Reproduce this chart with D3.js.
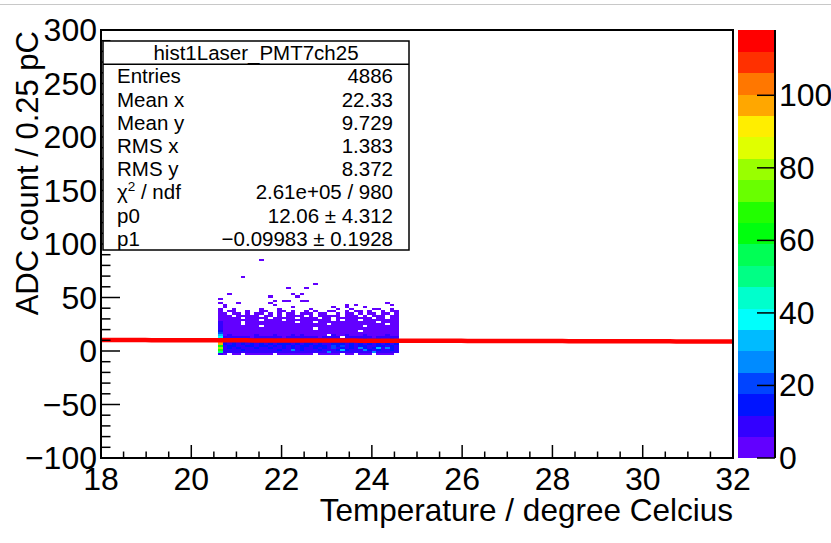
<!DOCTYPE html>
<html><head><meta charset="utf-8">
<script src="https://cdn.jsdelivr.net/npm/d3@7"></script>
<style>body{margin:0;background:#fff;overflow:hidden}svg{display:block}</style>
</head><body>
<svg id="c" width="831" height="543"></svg>
<script>
// ---------- data ----------
const xDomain = [18, 32];
const yDomain = [-100, 300];
const zDomain = [0, 118];
const xTickValues = [18, 20, 22, 24, 26, 28, 30, 32];
const yTickValues = [-100, -50, 0, 50, 100, 150, 200, 250, 300];
const zTickValues = [0, 20, 40, 60, 80, 100];
const nContours = 20;

// 2D histogram: x bins of 0.1 starting at 20.6 (40 columns), y bins of 2 (lower edges below)
const xBinStart = 20.6, xBinWidth = 0.1, yBinWidth = 2;
const rowY = [84, 68, 62, 58, 52, 50, 48, 46, 44, 42, 40, 38, 36, 34, 32, 30, 28, 26, 24, 22, 20, 18, 16, 14, 12, 10, 8, 6, 4, 2, 0, -2, -4];
// column 20.6-20.7 (counts), same order as rowY
const firstColumn = [0, 0, 0, 0, 0, 0, 1, 0, 1, 0, 0, 2, 2, 3, 2, 4, 5, 6, 7, 8, 10, 15, 22, 33, 40, 70, 118, 95, 64, 80, 68, 50, 10];
// other columns: base-36 counts ('.' = empty, '_' = first column placeholder)
const gridRows = [
  "_........1 .......... .......... ..........",
  "_....1.... .......... .......... ..........",
  "_......... .......... .1........ ..........",
  "_......... .....1...1 .......... ..........",
  "_.1....... ......1.1. .......... ..........",
  "_......... .1.....1.. .......... ..........",
  "_......... .......... .......... ..........",
  "_......... ..1.11..11 .......... ..........",
  "_...1..... .1........ .......... .......1..",
  "_1........ ..1....... ........1. 1.......1.",
  "_1........ ......1... .....1..1. ..1.......",
  "_..1.....1 ...1...... 1.....1..1 ....11..1.",
  "_.11..1..1 1..11.1..1 .1..11..1. 11.1..1.11",
  "_1.21.1.11 .1.1.11.21 1.11..1.11 .1.11.11.1",
  "_11.11211. 11.1.1121. 1.11121.11 1.1.211.11",
  "_1211.1121 1.21112.11 21.11.1121 1121.11.21",
  "_21112111. 2112.11211 12111.2.11 2.11212111",
  "_1121.2121 1211121.12 1.21121211 21121.1212",
  "_2212.2122 1212121221 2121.21312 1212121.22",
  "_23221212. 2131222121 2122312221 22.2131212",
  "_322231232 3212322213 2.22312232 2132231222",
  "_343324353 4332143423 3423413432 3.43423434",
  "_453433454 3542534344 3423445342 4354234543",
  "_564544565 4563546475 5435.65464 5465345654",
  "_768676587 6786579686 7658767.86 6876587697",
  "_9aba8cb9a baca9dbaca 9bcaa9cbda abca9dbaca",
  "_bcacbdac9 bdcbaecbdb acdbcbadcb cbdacbecbc",
  "_cbdbcacbd bcadcfbcac dbcbadcebc bcadbcadbc",
  "_bdcbaecbc cbd9cbfadc bcedbmciac bcdbaecbdb",
  "_acbdbabca bcabhacbdb acbdbkaebc arcbcyaqcb",
  "_9baacb9ab ab9cbaqbca 9bca9bcxda abtcacb9da",
  "_787a68978 8798a69787 8a97p89687 9786r78968",
  "_3.43.3423 43.3432434 3.43234.43 .343.4342."
];

const palette = ["#6200ff", "#3300ff", "#0014ff", "#0044ff", "#008bff", "#00bbff", "#00fffc", "#00ffcc",
  "#00ff85", "#00ff55", "#00ff0e", "#22ff00", "#69ff00", "#99ff00", "#e0ff00", "#ffee00",
  "#ffa700", "#ff7700", "#ff3000", "#ff0000"];

const fitP0 = 12.06, fitP1 = -0.09983;

const statsTitle = "hist1Laser_PMT7ch25";
const statsLabels = ["Entries", "Mean x", "Mean y", "RMS x", "RMS y", "CHI2", "p0", "p1"];
const statsValues = ["4886", "22.33", "9.729", "1.383", "8.372", "2.61e+05 / 980", "12.06 \u00b1 4.312", "\u22120.09983 \u00b1 0.1928"];

const xTitle = "Temperature / degree Celcius";
const yTitle = "ADC count / 0.25 pC";

// ---------- layout ----------
const F = {l: 101, r: 733, t: 30, b: 458};
const P = {l: 737.5, r: 775};
const font = "'Liberation Sans', Arial, Helvetica, sans-serif";
const labelSize = 32;
const svg = d3.select("#c");

const xs = d3.scaleLinear().domain(xDomain).range([F.l, F.r]);
const ys = d3.scaleLinear().domain(yDomain).range([F.b, F.t]);
const zs = d3.scaleLinear().domain(zDomain).range([F.b, F.t]);

// window line at top
svg.append("line").attr("x1", 0).attr("x2", 831).attr("y1", 4.5).attr("y2", 4.5)
  .attr("stroke", "#c8c8c8").attr("stroke-width", 1);

// clip
svg.append("clipPath").attr("id", "fr").append("rect")
  .attr("x", F.l).attr("y", F.t).attr("width", F.r - F.l).attr("height", F.b - F.t);

// cells
const cells = [];
gridRows.forEach((s, r) => {
  const chars = s.replace(/ /g, "").split("");
  chars.forEach((ch, c) => {
    let v = 0;
    if (c === 0) v = firstColumn[r];
    else if (ch !== ".") v = parseInt(ch, 36);
    if (v > 0) cells.push({x0: xBinStart + c * xBinWidth, y0: rowY[r], v});
  });
});
const dz = (zDomain[1] - zDomain[0]) / nContours;
const g = svg.append("g").attr("clip-path", "url(#fr)");
g.selectAll("rect.cell").data(cells).join("rect").attr("class", "cell")
  .attr("x", d => xs(d.x0))
  .attr("width", d => xs(d.x0 + xBinWidth) - xs(d.x0))
  .attr("y", d => ys(d.y0 + yBinWidth))
  .attr("height", d => ys(d.y0) - ys(d.y0 + yBinWidth))
  .attr("fill", d => palette[Math.min(nContours - 1, Math.floor(d.v / dz))])
  .attr("shape-rendering", "crispEdges");

// fit line
const fitX = d3.range(0, 101).map(i => xDomain[0] + i * (xDomain[1] - xDomain[0]) / 100);
g.append("path").datum(fitX)
  .attr("d", d3.line().x(d => xs(d)).y(d => ys(fitP0 + fitP1 * d)))
  .attr("fill", "none").attr("stroke", "#ff0000").attr("stroke-width", 4.5);

// frame
svg.append("rect").attr("x", F.l).attr("y", F.t).attr("width", F.r - F.l).attr("height", F.b - F.t)
  .attr("fill", "none").attr("stroke", "#000").attr("stroke-width", 2);

// x ticks
const xMinor = d3.range(xDomain[0], xDomain[1] + 0.001, 0.5);
svg.append("g").selectAll("line").data(xMinor).join("line")
  .attr("x1", d => xs(d)).attr("x2", d => xs(d))
  .attr("y1", F.b).attr("y2", d => F.b - (xTickValues.includes(d) ? 13 : 6.5))
  .attr("stroke", "#000").attr("stroke-width", 1.5);
svg.append("g").selectAll("text").data(xTickValues).join("text")
  .attr("x", d => xs(d)).attr("y", 490).attr("text-anchor", "middle")
  .attr("font-family", font).attr("font-size", labelSize).text(d => d);

// y ticks
const yMinor = d3.range(yDomain[0], yDomain[1] + 0.001, 10);
svg.append("g").selectAll("line").data(yMinor).join("line")
  .attr("y1", d => ys(d)).attr("y2", d => ys(d))
  .attr("x1", F.l).attr("x2", d => F.l + (yTickValues.includes(d) ? 19 : 9.5))
  .attr("stroke", "#000").attr("stroke-width", 1.5);
svg.append("g").selectAll("text").data(yTickValues).join("text")
  .attr("x", 97).attr("y", d => ys(d) + 11).attr("text-anchor", "end")
  .attr("font-family", font).attr("font-size", labelSize).text(d => d < 0 ? "\u2212" + Math.abs(d) : d);

// titles
svg.append("text").attr("x", F.r).attr("y", 521).attr("text-anchor", "end")
  .attr("font-family", font).attr("font-size", 31.5).text(xTitle);
svg.append("text").attr("transform", `translate(38,${F.t + 1}) rotate(-90)`).attr("text-anchor", "end")
  .attr("font-family", font).attr("font-size", 31).text(yTitle);

// palette
const bands = d3.range(nContours);
svg.append("g").selectAll("rect").data(bands).join("rect")
  .attr("x", P.l).attr("width", P.r - P.l)
  .attr("y", i => zs(zDomain[0] + (i + 1) * dz))
  .attr("height", i => zs(zDomain[0] + i * dz) - zs(zDomain[0] + (i + 1) * dz) + 0.3)
  .attr("fill", i => palette[i]).attr("shape-rendering", "crispEdges");
svg.append("line").attr("x1", P.r).attr("x2", P.r).attr("y1", F.t).attr("y2", F.b)
  .attr("stroke", "#000").attr("stroke-width", 2);
svg.append("g").selectAll("line").data(zTickValues).join("line")
  .attr("x1", P.r).attr("x2", P.r - 18).attr("y1", d => zs(d)).attr("y2", d => zs(d))
  .attr("stroke", "#000").attr("stroke-width", 1.5);
svg.append("g").selectAll("text").data(zTickValues).join("text")
  .attr("x", 779).attr("y", d => zs(d) + 11)
  .attr("font-family", font).attr("font-size", labelSize).text(d => d);

// stats box
const B = {l: 103, r: 409, t: 41, b: 250};
const rowH = (B.b - B.t) / (statsLabels.length + 1);
const statSize = 20.5;
svg.append("rect").attr("x", B.l).attr("y", B.t).attr("width", B.r - B.l).attr("height", B.b - B.t)
  .attr("fill", "#fff").attr("stroke", "#000").attr("stroke-width", 1.5);
svg.append("line").attr("x1", B.l).attr("x2", B.r).attr("y1", B.t + rowH).attr("y2", B.t + rowH)
  .attr("stroke", "#000").attr("stroke-width", 1.5);
svg.append("text").attr("x", (B.l + B.r) / 2).attr("y", B.t + rowH / 2 + 7.5).attr("text-anchor", "middle")
  .attr("font-family", font).attr("font-size", statSize).text(statsTitle);
const sg = svg.append("g").attr("font-family", font).attr("font-size", statSize);
statsLabels.forEach((lab, i) => {
  const cy = B.t + rowH * (i + 1.5) + 7.5;
  const t = sg.append("text").attr("x", 117).attr("y", cy);
  if (lab === "CHI2") {
    t.append("tspan").text("\u03c7");
    t.append("tspan").attr("font-size", 13.5).attr("dy", -8).text("2");
    t.append("tspan").attr("dy", 8).text(" / ndf");
  } else t.text(lab);
  sg.append("text").attr("x", 393).attr("y", cy).attr("text-anchor", "end").text(statsValues[i]);
});
</script>
</body></html>
